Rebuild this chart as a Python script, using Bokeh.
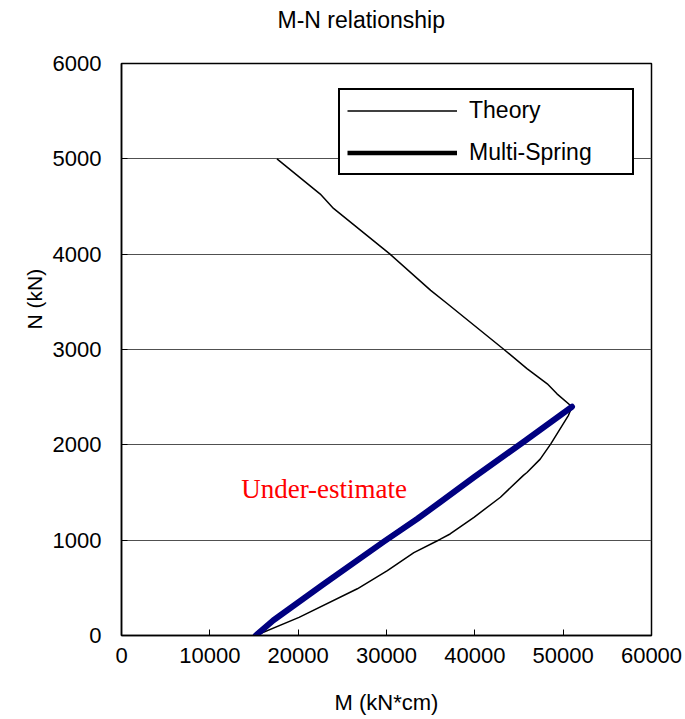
from bokeh.plotting import figure
from bokeh.models import Range1d, FixedTicker, Legend, LegendItem, Label, Title
from bokeh.embed import file_html
from bokeh.resources import INLINE

# ---- data ----
title_text = "M-N relationship"
x_label = "M (kN*cm)"
y_label = "N (kN)"
x_ticks = [0, 10000, 20000, 30000, 40000, 50000, 60000]
y_ticks = [0, 1000, 2000, 3000, 4000, 5000, 6000]

theory_M = [15200, 20100, 26700, 30100, 33100, 36100, 37200, 39900, 42900,
            45500, 45900, 47400, 48600, 50600, 51000, 49300, 48200, 45900,
            43300, 36900, 35000, 30400, 24000, 22500, 17600]
theory_N = [0, 190, 490, 680, 870, 1010, 1065, 1240, 1450,
            1680, 1710, 1850, 2010, 2310, 2400, 2535, 2640, 2800,
            3000, 3480, 3620, 4000, 4480, 4630, 5000]

spring_M = [15200, 17200, 22900, 29700, 33500, 36100, 39900, 45500, 51000]
spring_N = [0, 160, 540, 985, 1225, 1400, 1660, 2030, 2400]

series_names = ["Theory", "Multi-Spring"]
note_text = "Under-estimate"

FONT = "Liberation Sans"

p = figure(width=685, height=719, output_backend="svg", toolbar_location=None,
           x_range=Range1d(0, 60000), y_range=Range1d(0, 6000),
           min_border_left=121, min_border_right=34, min_border_top=63,
           min_border_bottom=84)
p.background_fill_color = "white"
p.border_fill_color = "white"
p.outline_line_color = "black"
p.outline_line_width = 1.5

# real title (outer), spacer title next to the frame
p.title.text = title_text
p.title.align = "left"
p.title.offset = 156
p.title.standoff = 0
p.title.text_font = FONT
p.title.text_font_size = "23px"
p.title.text_font_style = "normal"
p.title.text_color = "black"

spacer = Title(text=" ", text_font_size="1px", standoff=28)
p.add_layout(spacer, "above")

p.xgrid.visible = False
p.ygrid.grid_line_color = "#505050"
p.ygrid.grid_line_width = 1.2
p.ygrid.ticker = FixedTicker(ticks=y_ticks)

p.xaxis.ticker = FixedTicker(ticks=x_ticks)
p.yaxis.ticker = FixedTicker(ticks=y_ticks)
for ax in (p.xaxis, p.yaxis):
    ax.axis_line_color = "black"
    ax.axis_line_width = 1.5
    ax.major_tick_in = 6
    ax.major_tick_out = 0
    ax.major_tick_line_color = "black"
    ax.minor_tick_line_color = None
    ax.major_label_text_font = FONT
    ax.major_label_text_font_size = "22px"
    ax.major_label_text_color = "black"
p.yaxis.major_label_standoff = 20
p.xaxis.major_label_standoff = 12

p.xaxis.axis_label = x_label
p.xaxis.axis_label_text_font = FONT
p.xaxis.axis_label_text_font_size = "22px"
p.xaxis.axis_label_text_font_style = "normal"
p.xaxis.axis_label_text_color = "black"
p.xaxis.axis_label_standoff = 24

ytitle = Title(text=y_label, align="left", offset=306, text_font=FONT,
               text_font_size="21px", text_font_style="normal",
               text_color="black", standoff=8)
p.add_layout(ytitle, "left")

r_theory = p.line(theory_M, theory_N, line_color="black", line_width=1.5)
r_spring_legend = p.line(spring_M, spring_N, line_color="black", line_width=4.5)
r_spring = p.line(spring_M, spring_N, line_color="#000080", line_width=6,
                  line_join="round", line_cap="round")

legend = Legend(items=[LegendItem(label=series_names[0], renderers=[r_theory]),
                       LegendItem(label=series_names[1], renderers=[r_spring_legend])],
                location=(217, 460))
legend.border_line_color = "black"
legend.border_line_width = 2
legend.border_line_alpha = 1
legend.background_fill_color = "white"
legend.background_fill_alpha = 1
legend.label_text_font = FONT
legend.label_text_font_size = "23px"
legend.label_text_color = "black"
legend.glyph_width = 110
legend.glyph_height = 23
legend.label_height = 23
legend.label_width = 156
legend.label_standoff = 12
legend.padding = 7
legend.spacing = 15
legend.margin = 0
p.add_layout(legend, "center")

p.add_layout(Label(x=13550, y=1540, text=note_text, text_color="red",
                   text_font="Liberation Serif", text_font_size="27px",
                   text_baseline="alphabetic", text_align="left"))

open("out.html", "w").write(file_html(p, INLINE))
